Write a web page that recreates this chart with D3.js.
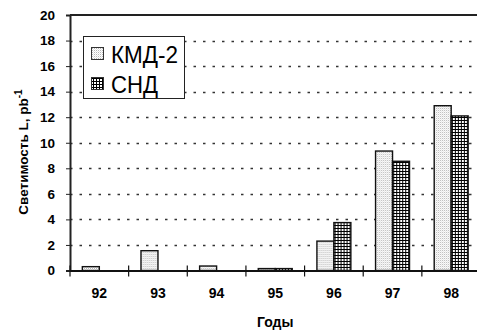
<!DOCTYPE html>
<html>
<head>
<meta charset="utf-8">
<script src="https://cdn.jsdelivr.net/npm/d3@7"></script>
<style>
  body { margin: 0; background: #fff; }
  svg { display: block; font-family: Arial, "Liberation Sans", sans-serif; }
</style>
</head>
<body>
<div id="chart"></div>
<script>
// Data
const years = ["92", "93", "94", "95", "96", "97", "98"];
const series = ["КМД-2", "СНД"];
const kmdValues = [0.3, 1.55, 0.35, 0.15, 2.3, 9.35, 12.9];
const sndValues = [0, 0, 0, 0.15, 3.75, 8.55, 12.1];
const yTicks = [0, 2, 4, 6, 8, 10, 12, 14, 16, 18, 20];

const WIDTH = 477, HEIGHT = 332;
const MARGIN = { left: 70, top: 15, right: -3.5, bottom: 61.5 };

const svg = d3.select("#chart").append("svg")
    .attr("width", WIDTH).attr("height", HEIGHT);

// fill patterns
const defs = svg.append("defs");
const dots = defs.append("pattern").attr("id", "pat-kmd")
    .attr("patternUnits", "userSpaceOnUse").attr("width", 2).attr("height", 2);
dots.append("rect").attr("width", 2).attr("height", 2).attr("fill", "#fff");
dots.append("rect").attr("width", 1).attr("height", 1).attr("fill", "#b8b8b8");
dots.append("rect").attr("x", 1).attr("y", 1).attr("width", 1).attr("height", 1).attr("fill", "#e6e6e6");

const grid = defs.append("pattern").attr("id", "pat-snd")
    .attr("patternUnits", "userSpaceOnUse").attr("width", 3).attr("height", 3);
grid.append("rect").attr("width", 3).attr("height", 3).attr("fill", "#000");
grid.append("rect").attr("x", 1).attr("y", 1).attr("width", 2).attr("height", 2).attr("fill", "#fff");

const x0 = d3.scaleBand()
    .domain(years)
    .range([MARGIN.left, WIDTH - MARGIN.right])
    .paddingInner(0).paddingOuter(0);

const x1 = d3.scaleBand()
    .domain(series)
    .range([0, x0.bandwidth()])
    .paddingInner(0).paddingOuter(0.727);

const y = d3.scaleLinear()
    .domain([0, 20])
    .range([HEIGHT - MARGIN.bottom, MARGIN.top]);

const fills = { "КМД-2": "url(#pat-kmd)", "СНД": "url(#pat-snd)" };
const valueSets = { "КМД-2": kmdValues, "СНД": sndValues };

// dotted gridlines
svg.append("g").selectAll("line")
    .data(yTicks.filter(t => t > 0 && t < 20))
    .join("line")
    .attr("x1", MARGIN.left).attr("x2", WIDTH)
    .attr("y1", d => Math.round(y(d)) + 0.5).attr("y2", d => Math.round(y(d)) + 0.5)
    .attr("stroke", "#333").attr("stroke-width", 1.3)
    .attr("stroke-dasharray", "2.5,7");

// top border
svg.append("line")
    .attr("x1", MARGIN.left).attr("x2", WIDTH)
    .attr("y1", y(20)).attr("y2", y(20))
    .attr("stroke", "#222").attr("stroke-width", 2);

// bars
const rows = years.map((yr, i) => ({ year: yr, values: series.map(s => ({ key: s, value: valueSets[s][i] })) }));
svg.append("g").selectAll("g")
    .data(rows)
    .join("g")
    .attr("transform", d => `translate(${x0(d.year)},0)`)
    .selectAll("rect")
    .data(d => d.values.filter(v => v.value > 0))
    .join("rect")
    .attr("x", d => x1(d.key))
    .attr("y", d => y(d.value))
    .attr("width", x1.bandwidth())
    .attr("height", d => y(0) - y(d.value))
    .attr("fill", d => fills[d.key])
    .attr("stroke", "#111").attr("stroke-width", 1.4);

// y axis
const yAxis = svg.append("g")
    .attr("transform", `translate(${MARGIN.left},0)`)
    .call(d3.axisLeft(y).tickValues(yTicks).tickSize(4).tickPadding(11));
yAxis.select(".domain").attr("stroke", "#222").attr("stroke-width", 2);
yAxis.selectAll(".tick line").attr("stroke", "#222").attr("stroke-width", 1);
yAxis.selectAll(".tick text")
    .attr("font-size", 13.5).attr("font-weight", "bold").attr("fill", "#000")
    .attr("font-family", "Arial, 'Liberation Sans', sans-serif");

// x axis
const xAxis = svg.append("g")
    .attr("transform", `translate(0,${y(0)})`)
    .call(d3.axisBottom(x0).tickSize(0).tickPadding(18));
xAxis.select(".domain").attr("stroke", "#111").attr("stroke-width", 2.2);
xAxis.selectAll(".tick text")
    .attr("font-size", 14).attr("font-weight", "bold").attr("fill", "#000")
    .attr("font-family", "Arial, 'Liberation Sans', sans-serif");
// category separators crossing the axis
xAxis.append("g").selectAll("line")
    .data(years)
    .join("line")
    .attr("x1", d => x0(d)).attr("x2", d => x0(d))
    .attr("y1", -5).attr("y2", 6)
    .attr("stroke", "#111").attr("stroke-width", 1.2);

// axis titles
svg.append("text")
    .attr("x", (x0.range()[0] + x0.range()[1]) / 2)
    .attr("y", 327)
    .attr("text-anchor", "middle")
    .attr("font-size", 14).attr("font-weight", "bold")
    .text("Годы");

const yTitle = svg.append("text")
    .attr("transform", `translate(28,152) rotate(-90)`)
    .attr("text-anchor", "middle")
    .attr("font-size", 13.5).attr("font-weight", "bold");
yTitle.append("tspan").text("Светимость L, pb");
yTitle.append("tspan").attr("dy", -6).attr("font-size", 10).text("-1");

// legend
const legend = svg.append("g");
legend.append("rect")
    .attr("x", 83.5).attr("y", 36.5).attr("width", 101).attr("height", 62)
    .attr("fill", "#fff").attr("stroke", "#222").attr("stroke-width", 1);
const items = legend.selectAll("g.item")
    .data(series)
    .join("g").attr("class", "item")
    .attr("transform", (d, i) => `translate(0,${54 + i * 30})`);
items.append("rect")
    .attr("x", 91.5).attr("y", -6.5).attr("width", 12).attr("height", 12)
    .attr("fill", d => fills[d])
    .attr("stroke", "#333").attr("stroke-width", 1);
items.append("text")
    .attr("x", 111)
    .attr("y", 9)
    .attr("font-size", 24)
    .attr("textLength", d => d === "СНД" ? 47 : 67)
    .attr("lengthAdjust", "spacingAndGlyphs")
    .text(d => d);
</script>
</body>
</html>
